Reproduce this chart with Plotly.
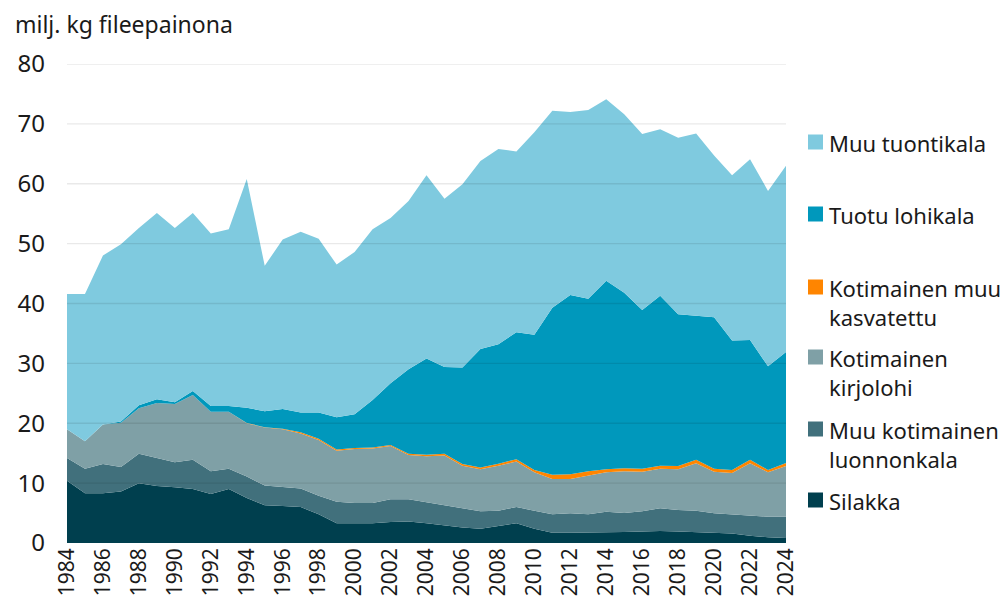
import plotly.graph_objects as go

years = list(range(1984, 2025))

silakka = [10.4, 8.3, 8.3, 8.6, 10.0, 9.5, 9.3, 9.0, 8.2, 9.0, 7.5, 6.3, 6.2, 6.0, 4.8,
           3.3, 3.3, 3.3, 3.5, 3.6, 3.3, 2.95, 2.6, 2.4, 2.8, 3.3, 2.4, 1.7, 1.7, 1.7,
           1.8, 1.85, 1.9, 2.0, 1.9, 1.8, 1.8, 1.6, 1.2, 0.95, 0.85]
muu_luonnonkala = [3.8, 4.1, 4.9, 4.1, 4.9, 4.7, 4.2, 4.9, 3.8, 3.4, 3.6, 3.3, 3.1, 3.1, 3.1,
                   3.6, 3.4, 3.4, 3.8, 3.7, 3.5, 3.35, 3.1, 2.9, 2.6, 2.7, 3.0, 3.1, 3.25, 3.1,
                   3.4, 3.15, 3.4, 3.8, 3.6, 3.6, 3.15, 3.2, 3.4, 3.45, 3.55]
kirjolohi = [4.8, 4.6, 6.6, 7.4, 7.6, 9.2, 9.7, 10.8, 9.9, 9.5, 8.9, 9.7, 9.7, 9.2, 9.3,
             8.5, 9.0, 9.1, 8.9, 7.4, 7.7, 8.3, 7.2, 7.0, 7.5, 7.6, 6.4, 5.9, 5.75, 6.4,
             6.6, 7.0, 6.6, 6.6, 6.8, 7.9, 6.95, 6.9, 8.7, 7.4, 8.45]
muu_kasvatettu = [0.0, 0.0, 0.0, 0.0, 0.0, 0.0, 0.0, 0.0, 0.0, 0.0, 0.05, 0.05, 0.1, 0.2, 0.2,
                  0.2, 0.15, 0.15, 0.15, 0.2, 0.25, 0.3, 0.3, 0.3, 0.35, 0.4, 0.4, 0.7, 0.8, 0.8,
                  0.5, 0.5, 0.5, 0.5, 0.55, 0.6, 0.5, 0.5, 0.6, 0.4, 0.5]
tuotu_lohikala = [0.0, 0.0, 0.0, 0.2, 0.5, 0.6, 0.3, 0.7, 1.0, 1.0, 2.55, 2.65, 3.3, 3.3, 4.4,
                  5.4, 5.65, 7.95, 10.35, 14.1, 16.05, 14.5, 16.1, 19.8, 19.95, 21.2, 22.6, 27.9, 29.9, 28.8,
                  31.5, 29.3, 26.5, 28.4, 25.35, 24.0, 25.3, 21.6, 20.0, 17.3, 18.55]
muu_tuontikala = [22.6, 24.6, 28.2, 29.6, 29.6, 31.1, 29.1, 29.7, 28.8, 29.5, 38.2, 24.3, 28.3, 30.2, 29.0,
                  25.5, 27.1, 28.5, 27.6, 28.1, 30.6, 28.1, 30.6, 31.4, 32.6, 30.2, 33.8, 32.9, 30.6, 31.5,
                  30.3, 29.8, 29.4, 27.8, 29.5, 30.5, 27.0, 27.6, 30.2, 29.3, 31.1]

series_names = ["Silakka", "Muu kotimainen<br>luonnonkala", "Kotimainen<br>kirjolohi",
                "Kotimainen muu<br>kasvatettu", "Tuotu lohikala", "Muu tuontikala"]
series_values = [silakka, muu_luonnonkala, kirjolohi, muu_kasvatettu, tuotu_lohikala, muu_tuontikala]
colors = ["#003f4e", "#41707c", "#7fa0a6", "#ff8500", "#0098bc", "#7fcadf"]

y_ticks = [0, 10, 20, 30, 40, 50, 60, 70, 80]
x_ticks = list(range(1984, 2025, 2))

FONT = "Noto Sans, Open Sans, sans-serif"

fig = go.Figure()
for name, vals, col in zip(series_names, series_values, colors):
    fig.add_trace(go.Scatter(
        x=years, y=vals, name=name.replace("<br>", " "), mode="lines", stackgroup="one",
        line=dict(width=0, color=col), fillcolor=col, showlegend=False,
        hoverinfo="x+y+name"))

# gridlines drawn above the areas
for v in y_ticks[1:]:
    fig.add_shape(type="line", xref="paper", yref="y", x0=0, x1=1, y0=v, y1=v,
                  line=dict(color="rgba(0,0,0,0.085)", width=1.3), layer="above")

# custom legend (top to bottom)
L, R, top, bottom = 67, 786, 64, 543
plot_w = R - L
plot_h = bottom - top
legend_y_px = [142, 214, 287, 357, 429, 500]
for i, (name, col) in enumerate(zip(reversed(series_names), reversed(colors))):
    ypx = legend_y_px[i]
    yp = (bottom - ypx) / plot_h
    fig.add_shape(type="rect", xref="paper", yref="paper",
                  x0=(808 - L) / plot_w, x1=(823 - L) / plot_w,
                  y0=yp - 7.5 / plot_h, y1=yp + 7.5 / plot_h,
                  fillcolor=col, line=dict(width=0))
    fig.add_annotation(xref="paper", yref="paper",
                       x=(827 - L) / plot_w, y=yp + 16 / plot_h,
                       text=name, showarrow=False, xanchor="left", yanchor="top",
                       align="left", font=dict(size=22, color="#1a1a1a", family=FONT))

fig.add_annotation(xref="paper", yref="paper", x=(13 - L) / plot_w, y=(bottom - 24) / plot_h,
                   text="milj. kg fileepainona", showarrow=False, xanchor="left",
                   yanchor="middle", font=dict(size=23, color="#1a1a1a", family=FONT))

fig.update_layout(
    width=1004, height=601,
    margin=dict(l=L, r=1004 - R, t=top, b=601 - bottom, autoexpand=False),
    paper_bgcolor="white", plot_bgcolor="white",
    font=dict(family=FONT, size=22, color="#1a1a1a"),
    xaxis=dict(range=[1984, 2024], tickmode="array", tickvals=x_ticks,
               ticktext=[str(t) for t in x_ticks], tickangle=-90, automargin=False,
               showgrid=False, zeroline=False, showline=False, ticks="",
               tickfont=dict(size=21)),
    yaxis=dict(range=[0, 80], tickmode="array", tickvals=y_ticks, automargin=False,
               showgrid=False, zeroline=False, showline=False, ticks="",
               tickfont=dict(size=24), ticklabelstandoff=21),
    hovermode="x unified",
)

fig.write_html("out.html", config={"displayModeBar": False},
               post_script="document.body.style.margin='0px';document.body.style.padding='0px';document.body.style.overflow='hidden';")
